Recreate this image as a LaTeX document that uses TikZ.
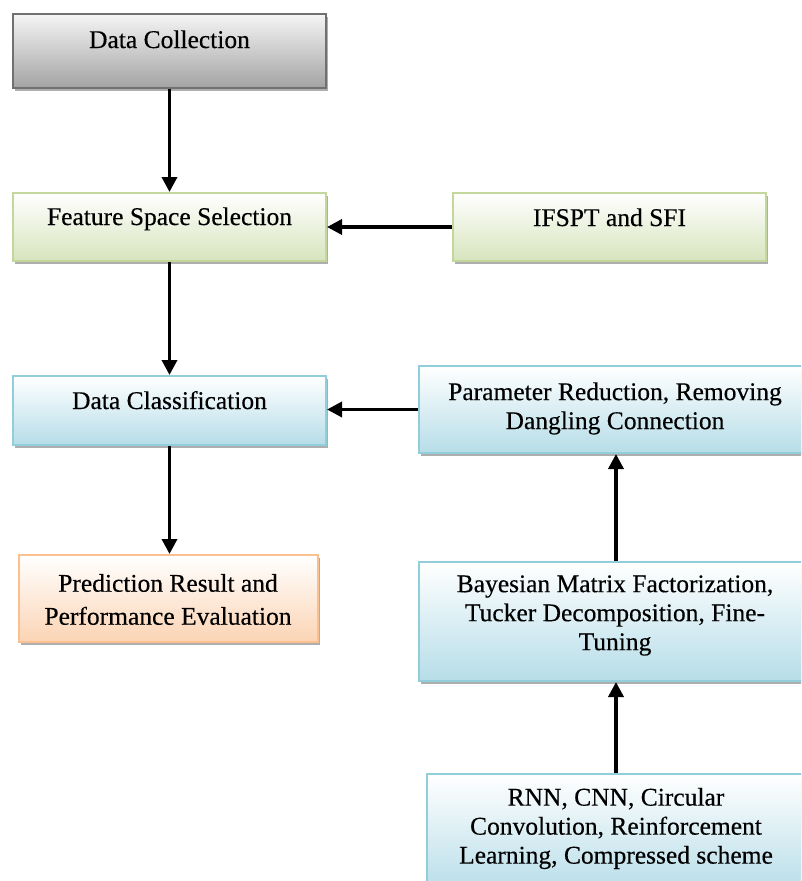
\documentclass[tikz,border=0pt]{standalone}
\usepackage{fontspec}
\setmainfont{Liberation Serif}
\newfontfamily\boxfont[FakeBold=0.35]{Liberation Serif}
\usetikzlibrary{arrows.meta,shadows}

\definecolor{grayedge}{HTML}{707070}
\definecolor{graybot}{HTML}{A3A3A3}
\definecolor{greenedge}{HTML}{C3D69B}
\definecolor{greenbot}{HTML}{D7E4BD}
\definecolor{blueedge}{HTML}{92CDDC}
\definecolor{bluebot}{HTML}{B6DDE8}
\definecolor{orangeedge}{HTML}{FAC08F}
\definecolor{orangebot}{HTML}{FBD4B4}

\tikzset{
  panel/.style={rectangle, line width=2pt, inner sep=0pt, top color=white,
    drop shadow={shadow xshift=2pt, shadow yshift=-3pt, fill=black!45, opacity=0.7}},
  graypanel/.style={panel, draw=grayedge, bottom color=graybot, top color=white!96!black},
  greenpanel/.style={panel, draw=greenedge, bottom color=greenbot},
  bluepanel/.style={panel, draw=blueedge, bottom color=bluebot},
  orangepanel/.style={panel, draw=orangeedge, bottom color=orangebot},
  label1/.style={anchor=base, inner sep=0pt, font=\boxfont\fontsize{25.5}{29}\selectfont},
  labelm/.style={anchor=center, inner sep=0pt, align=center, font=\boxfont\fontsize{25.5}{29}\selectfont},
  flow/.style={line width=3.5pt, -{Triangle[length=15pt, width=15pt]}}
}

\begin{document}
\begin{tikzpicture}[x=1pt, y=-1pt]
\useasboundingbox (0,0) rectangle (801,881);
\clip (0,0) rectangle (801,881);

% left column
\node[graypanel,   minimum width=313, minimum height=74] (dc) at (169.5,51) {};
\node[greenpanel,  minimum width=313, minimum height=68] (fs) at (169.5,227) {};
\node[bluepanel,   minimum width=313, minimum height=69] (cl) at (169.5,410.5) {};
\node[orangepanel, minimum width=299, minimum height=87] (pe) at (168.5,598.5) {};

% right column
\node[greenpanel, minimum width=313, minimum height=68]  (ifs) at (609.5,227) {};
\node[bluepanel,  minimum width=394, minimum height=87]  (pr)  at (616,409.5) {};
\node[bluepanel,  minimum width=394, minimum height=119] (bm)  at (616,621.5) {};
\node[bluepanel,  minimum width=378, minimum height=120] (rn)  at (616,834) {};

% captions
\node[label1] (dct)  at (169.5,48)  {Data Collection};
\node[label1] (fst)  at (169.5,225) {Feature Space Selection};
\node[label1] (ifst) at (609.5,226) {IFSPT and SFI};
\node[label1] (clt)  at (169.5,409) {Data Classification};
\node[labelm] (prt)  at (615,408.5) {Parameter Reduction, Removing\\Dangling Connection};
\node[labelm, font=\boxfont\fontsize{25.5}{33}\selectfont] (pet) at (168,599.5) {Prediction Result and\\Performance Evaluation};
\node[labelm] (bmt)  at (615,615.5) {Bayesian Matrix Factorization,\\Tucker Decomposition, Fine-\\Tuning};
\node[labelm] (rnt)  at (616,828.5) {RNN, CNN, Circular\\Convolution, Reinforcement\\Learning, Compressed scheme};

% connectors
\draw[flow] (dc) -- (fs);
\draw[flow] (fs) -- (cl);
\draw[flow] (cl.south) -- (cl.south |- pe.north);
\draw[flow] (ifs) -- (fs);
\draw[flow] (pr.west) -- (cl.east |- pr.west);
\draw[flow] (bm) -- (pr);
\draw[flow] (rn) -- (bm);
\end{tikzpicture}
\end{document}
